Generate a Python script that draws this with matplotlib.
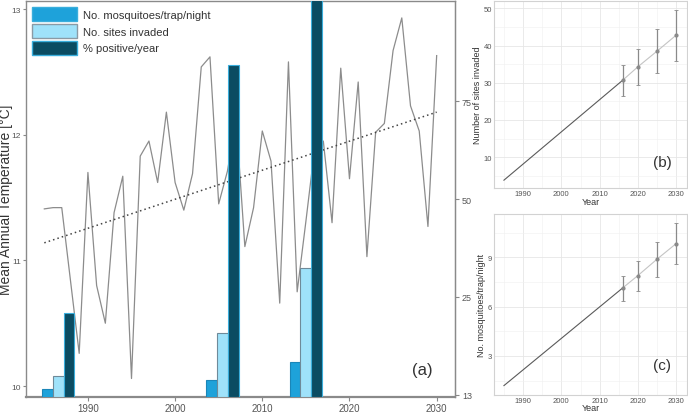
import numpy as np
import matplotlib
matplotlib.use("Agg")
import matplotlib.pyplot as plt
from matplotlib.patches import Patch

plt.rcParams['font.family'] = ['Liberation Sans', 'DejaVu Sans']

# ---- panel (a) data ----
years = list(range(1985, 2031))
temps = [11.41, 11.42, 11.42, 10.84, 10.26, 11.70, 10.80, 10.50, 11.38, 11.67,
         10.06, 11.83, 11.95, 11.62, 12.18, 11.62, 11.40, 11.69, 12.54, 12.62,
         11.45, 11.71, 12.12, 11.11, 11.42, 12.03, 11.79, 10.66, 12.58, 10.75,
         11.31, 11.89, 11.95, 11.30, 12.53, 11.65, 12.42, 11.03, 12.02, 12.09,
         12.67, 12.93, 12.23, 12.03, 11.27, 12.63]
trend_years = [1985, 2030]
trend_temps = [11.14, 12.18]

bar_years = [1986.6, 2005.45, 2015.0]
mosq_bar = [1.6, 3.8, 8.3]
sites_bar = [4.9, 15.9, 32.3]
pos_bar = [20.8, 84.2, 104.0]
right_ticks = [0, 25, 50, 75]
right_labels = ['13', '25', '50', '75']

# ---- panels (b) and (c) data ----
hist_years = [1985, 2016]
proj_years = [2016, 2020, 2025, 2030]
sites_hist = [3.8, 30.65]
sites_mean = [30.65, 34.3, 38.5, 42.8]
sites_lo = [26.4, 29.5, 32.7, 35.9]
sites_hi = [34.8, 39.1, 44.4, 49.6]
mosq_hist = [1.19, 7.14]
mosq_mean = [7.14, 7.9, 8.9, 9.85]
mosq_lo = [6.35, 6.96, 7.8, 8.6]
mosq_hi = [7.9, 8.8, 9.97, 11.1]

c_blue = '#1ea2da'
c_light = '#9fe2fa'
c_dark = '#0b4c62'
tick_grey = '#555555'

fig = plt.figure(figsize=(6.88, 4.14), dpi=100)

# ---- main panel ----
ax = fig.add_axes([0.0378, 0.0393, 0.6235, 0.9557])
ax.plot(years, temps, color='#8c8c8c', lw=0.9)
ax.plot(trend_years, trend_temps, color='#444444', lw=1.1, linestyle=(0, (1, 2)))
ax.set_xlim(1982.9, 2032.1)
ax.set_ylim(9.915, 13.064)
ax.set_xticks([1990, 2000, 2010, 2020, 2030])
ax.set_yticks([10, 11, 12, 13])
ax.set_ylabel('Mean Annual Temperature [°C]', fontsize=10, color='#333333')
ax.yaxis.set_label_coords(-0.03, 0.5)
ax.tick_params(axis='x', labelsize=7, colors='#888888', labelcolor=tick_grey, length=3, pad=1.5)
ax.tick_params(axis='y', labelsize=6, colors='#888888', labelcolor=tick_grey, length=2, pad=1.5)
for s in ax.spines.values():
    s.set_color('#8a8a8a')
    s.set_linewidth(1.0)
ax.spines['bottom'].set_linewidth(1.6)
ax.text(2028.4, 10.13, '(a)', fontsize=12, color='#333333', ha='center', va='center')

ax2 = ax.twinx()
w = 1.24
base = -0.5
ax2.set_ylim(base, 100.6)
x = np.array(bar_years)
ax2.bar(x - w, np.array(mosq_bar) - base, bottom=base, width=w, color=c_blue,
        edgecolor='#1b86b8', linewidth=0.8)
ax2.bar(x, np.array(sites_bar) - base, bottom=base, width=w, color=c_light,
        edgecolor='#6f8a99', linewidth=0.8)
ax2.bar(x + w, np.array(pos_bar) - base, bottom=base, width=w, color=c_dark,
        edgecolor='#3aaedc', linewidth=0.8)
ax2.set_yticks(right_ticks)
ax2.set_yticklabels(right_labels)
ax2.tick_params(axis='y', labelsize=6.5, colors='#888888', labelcolor=tick_grey, length=3, pad=2)
for s in ax2.spines.values():
    s.set_visible(False)
ax2.spines['right'].set_visible(True)
ax2.spines['right'].set_color('#8a8a8a')

handles = [Patch(facecolor=c_blue, edgecolor='#3aaedc', lw=1),
           Patch(facecolor=c_light, edgecolor='#8a9aa5', lw=1),
           Patch(facecolor=c_dark, edgecolor='#3aaedc', lw=1)]
leg = ax2.legend(handles, ['No. mosquitoes/trap/night', 'No. sites invaded', '% positive/year'],
                 loc='upper left', frameon=False, fontsize=8, handlelength=4.0,
                 handleheight=1.5, labelspacing=0.3, handletextpad=0.6,
                 borderaxespad=0.5, borderpad=0.05)
for t in leg.get_texts():
    t.set_color('#333333')


def small_panel(rect, hist, mean, lo, hi, yl, ylim, yticks, label, lab_y):
    a = fig.add_axes(rect)
    a.set_xlim(1982.4, 2032.8)
    a.set_xticks([1990, 2000, 2010, 2020, 2030])
    a.set_xticks([1985, 1995, 2005, 2015, 2025], minor=True)
    step = yticks[1] - yticks[0]
    a.set_yticks(yticks)
    a.set_yticks([t - step / 2 for t in yticks] + [yticks[-1] + step / 2], minor=True)
    a.set_ylim(*ylim)
    a.grid(which='major', color='#e6e6e6', lw=0.6)
    a.grid(which='minor', color='#f0f0f0', lw=0.4)
    a.set_axisbelow(True)
    a.plot(hist_years, hist, color='#5a5a5a', lw=0.8)
    a.plot(proj_years, mean, color='#c4c4c4', lw=0.8)
    m = np.array(mean)
    a.errorbar(proj_years, mean, yerr=[m - np.array(lo), np.array(hi) - m], fmt='o',
               color='#8a8a8a', ms=2, lw=0.9, capsize=1.2, capthick=0.6)
    a.set_xlabel('Year', fontsize=6.5, color='#333333', labelpad=-0.5)
    a.set_ylabel(yl, fontsize=6.5, color='#333333', labelpad=1)
    a.tick_params(which='both', length=0)
    a.tick_params(labelsize=5.5, labelcolor=tick_grey, pad=1.5)
    for s in a.spines.values():
        s.set_color('#d2d2d2')
        s.set_linewidth(0.8)
    a.text(2026.3, lab_y, label, fontsize=11, color='#333333', ha='center', va='center')
    return a


small_panel([0.718, 0.543, 0.2805, 0.4522], sites_hist, sites_mean, sites_lo, sites_hi,
            'Number of sites invaded', (1.64, 51.97), [10, 20, 30, 40, 50], '(b)', 8.8)
small_panel([0.718, 0.044, 0.2805, 0.4367], mosq_hist, mosq_mean, mosq_lo, mosq_hi,
            'No. mosquitoes/trap/night', (0.63, 11.65), [3, 6, 9], '(c)', 2.45)

fig.savefig('out.png', dpi=100)
